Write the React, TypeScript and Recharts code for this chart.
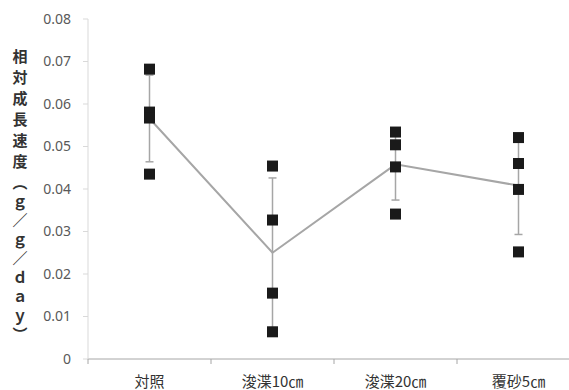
import { ComposedChart, Line, Scatter, XAxis, YAxis, ErrorBar } from "recharts";

// 処理区
const categories = ["対照", "浚渫10㎝", "浚渫20㎝", "覆砂5㎝"];
// 反復ごとの相対成長速度
const rep1 = [0.0682, 0.0454, 0.0534, 0.0521];
const rep2 = [0.0581, 0.0327, 0.0504, 0.046];
const rep3 = [0.0567, 0.0155, 0.0452, 0.0399];
const rep4 = [0.0435, 0.0064, 0.0341, 0.0252];
// 平均と標準偏差
const means = [0.0566, 0.025, 0.0458, 0.0408];
const sds = [0.0102, 0.0176, 0.0084, 0.0115];
const yTicks = [0, 0.01, 0.02, 0.03, 0.04, 0.05, 0.06, 0.07, 0.08];
const yTitle = "相対成長速度︵ｇ／ｇ／ｄａｙ︶";

const data = categories.map((c, i) => ({
  x: i + 0.5,
  name: c,
  mean: means[i],
  sd: sds[i],
  r1: rep1[i],
  r2: rep2[i],
  r3: rep3[i],
  r4: rep4[i],
}));

const xTicks = [0, 0.5, 1, 1.5, 2, 2.5, 3, 3.5, 4];

function XTick(props: any) {
  const { x, y, payload } = props;
  const v = payload.value;
  if (Number.isInteger(v)) {
    return <line x1={x} x2={x} y1={y} y2={y + 5} stroke="#a6a6a6" strokeWidth={1} />;
  }
  return (
    <text x={x} y={y + 28} textAnchor="middle" fill="#333" fontSize={15}
      fontFamily="'Noto Sans CJK JP', sans-serif">
      {categories[Math.floor(v)]}
    </text>
  );
}

function Square(props: any) {
  const { cx, cy } = props;
  return <rect x={cx - 5.5} y={cy - 5.5} width={11} height={11} fill="#1a1a1a" />;
}

function advance(ch: string) {
  if ("︵︶ｇ／ｄａｙ".includes(ch)) return 19;
  return 21;
}

function YTitle() {
  let pos = 55;
  const items = yTitle.split("").map((ch, i) => {
    const top = pos;
    pos += advance(ch);
    return (
      <span key={i} style={{ position: "absolute", left: 0, top: top - 7.5, width: 40, textAlign: "center", lineHeight: "15px", height: 15 }}>
        {ch}
      </span>
    );
  });
  return (
    <div style={{ position: "absolute", left: 0, top: 0, fontSize: 15, fontWeight: 700, color: "#333", fontFamily: "'Noto Sans CJK JP', sans-serif" }}>
      {items}
    </div>
  );
}

export default function App() {
  return (
    <div style={{ position: "fixed", left: 0, top: 0, width: 569, height: 390, overflow: "hidden", background: "#fff" }}>
      <ComposedChart width={600} height={390} data={data} margin={{ top: 19, right: 20, bottom: 0, left: 0 }}>
        <XAxis
          dataKey="x"
          type="number"
          domain={[0, 4]}
          ticks={xTicks}
          interval={0}
          tick={<XTick />}
          tickLine={false}
          tickSize={0}
          tickMargin={0}
          height={31}
          stroke="#a6a6a6"
        />
        <YAxis
          type="number"
          domain={[0, 0.08]}
          ticks={yTicks}
          allowDataOverflow
          width={88}
          stroke="#d9d9d9"
          tickSize={5}
          tickMargin={12}
          tick={{ fill: "#595959", fontSize: 14, fontFamily: "'Noto Sans', sans-serif" }}
          tickFormatter={(v: number) => (v === 0 ? "0" : v.toFixed(2))}
        />
        <Line dataKey="mean" stroke="#a6a6a6" strokeWidth={2} dot={false} isAnimationActive={false}>
          <ErrorBar dataKey="sd" direction="y" width={4} stroke="#a6a6a6" strokeWidth={1.5} />
        </Line>
        <Scatter dataKey="r1" shape={<Square />} isAnimationActive={false} />
        <Scatter dataKey="r2" shape={<Square />} isAnimationActive={false} />
        <Scatter dataKey="r3" shape={<Square />} isAnimationActive={false} />
        <Scatter dataKey="r4" shape={<Square />} isAnimationActive={false} />
      </ComposedChart>
      <YTitle />
    </div>
  );
}
